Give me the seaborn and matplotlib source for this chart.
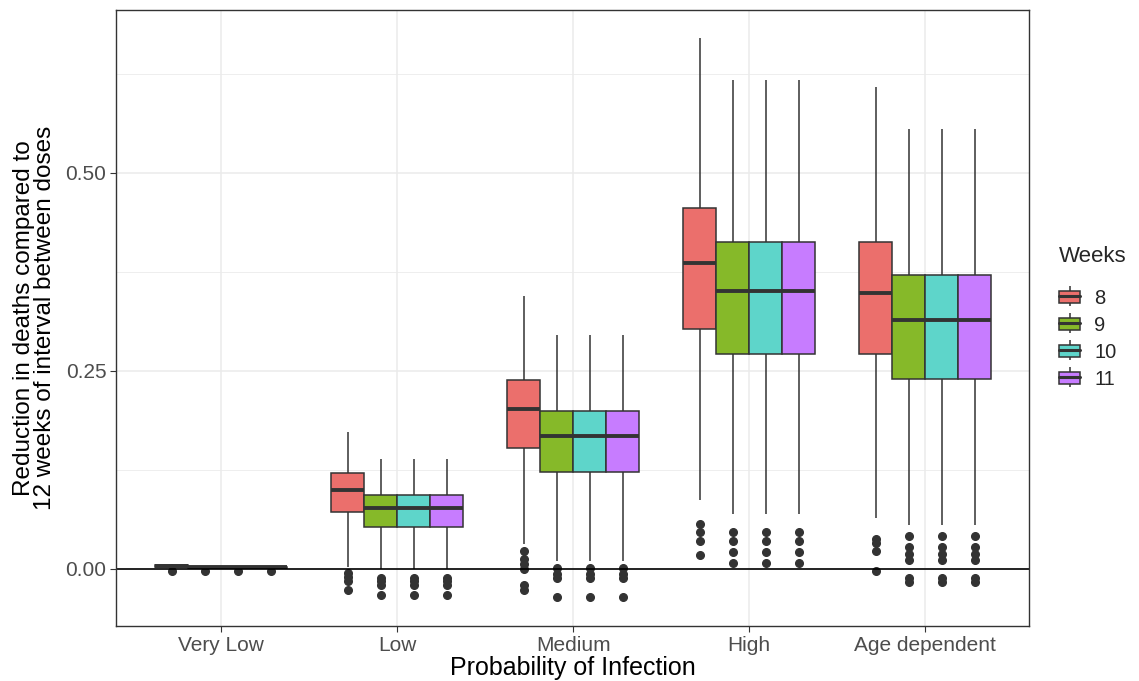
import numpy as np
import pandas as pd
import matplotlib
matplotlib.use("Agg")
import matplotlib.pyplot as plt
from matplotlib.patches import Patch, Rectangle
from matplotlib.lines import Line2D
from matplotlib.legend_handler import HandlerPatch
import seaborn as sns

# ---- data ----
categories = ["Very Low", "Low", "Medium", "High", "Age dependent"]
weeks = ["8", "9", "10", "11"]

# per category: values for weeks 8, 9, 10, 11
whislo = {
    "Very Low": [0.000, 0.000, 0.000, 0.000],
    "Low": [0.0025, 0.000, 0.000, 0.000],
    "Medium": [0.031, 0.010, 0.010, 0.010],
    "High": [0.087, 0.070, 0.070, 0.070],
    "Age dependent": [0.064, 0.0556, 0.0556, 0.0556],
}
q1 = {
    "Very Low": [0.0025, 0.001, 0.001, 0.001],
    "Low": [0.0716, 0.0526, 0.0526, 0.0526],
    "Medium": [0.153, 0.123, 0.123, 0.123],
    "High": [0.303, 0.271, 0.271, 0.271],
    "Age dependent": [0.271, 0.240, 0.240, 0.240],
}
median = {
    "Very Low": [0.0035, 0.002, 0.002, 0.002],
    "Low": [0.100, 0.0766, 0.0766, 0.0766],
    "Medium": [0.202, 0.168, 0.168, 0.168],
    "High": [0.386, 0.351, 0.351, 0.351],
    "Age dependent": [0.349, 0.314, 0.314, 0.314],
}
q3 = {
    "Very Low": [0.0045, 0.003, 0.003, 0.003],
    "Low": [0.121, 0.0934, 0.0934, 0.0934],
    "Medium": [0.2386, 0.200, 0.200, 0.200],
    "High": [0.456, 0.413, 0.413, 0.413],
    "Age dependent": [0.413, 0.371, 0.371, 0.371],
}
whishi = {
    "Very Low": [0.006, 0.004, 0.004, 0.004],
    "Low": [0.173, 0.139, 0.139, 0.139],
    "Medium": [0.345, 0.296, 0.296, 0.296],
    "High": [0.671, 0.618, 0.618, 0.618],
    "Age dependent": [0.608, 0.555, 0.555, 0.555],
}
outliers = {
    "Very Low": [[-0.002], [-0.0025], [-0.0025], [-0.0025]],
    "Low": [[-0.005, -0.010, -0.015, -0.027],
            [-0.011, -0.015, -0.020, -0.033],
            [-0.011, -0.015, -0.020, -0.033],
            [-0.011, -0.015, -0.020, -0.033]],
    "Medium": [[0.023, 0.012, 0.006, 0.000, -0.020, -0.027],
               [0.001, -0.006, -0.012, -0.035],
               [0.001, -0.006, -0.012, -0.035],
               [0.001, -0.006, -0.012, -0.035]],
    "High": [[0.057, 0.0466, 0.0347, 0.0176],
             [0.0466, 0.035, 0.022, 0.007],
             [0.0466, 0.035, 0.022, 0.007],
             [0.0466, 0.035, 0.022, 0.007]],
    "Age dependent": [[0.038, 0.033, 0.023, -0.003],
                      [0.042, 0.028, 0.0195, 0.011, -0.011, -0.017],
                      [0.042, 0.028, 0.0195, 0.011, -0.011, -0.017],
                      [0.042, 0.028, 0.0195, 0.011, -0.011, -0.017]],
}

colors = ["#EB6F6C", "#86B929", "#5ED5CA", "#C77CFF"]

# Build long-form table whose box statistics equal the values read above
M = 50
rows = []
for c in categories:
    for i, w in enumerate(weeks):
        vals = (list(outliers[c][i]) + [whislo[c][i]] + [q1[c][i]] * M
                + [median[c][i]] * M + [q3[c][i]] * M + [whishi[c][i]])
        for v in vals:
            rows.append((c, w, v))
df = pd.DataFrame(rows, columns=["Probability", "Weeks", "Reduction"])

# ---- plot ----
sns.set_theme(style="white")
plt.rcParams["font.family"] = ["Liberation Sans", "DejaVu Sans"]

fig = plt.figure(figsize=(11.39, 6.81), dpi=100)
ax = fig.add_axes([116 / 1139, 1 - 626 / 681, (1029 - 116) / 1139, (626 - 10) / 681])

edge = "#333333"
sns.boxplot(
    data=df, x="Probability", y="Reduction", hue="Weeks",
    order=categories, hue_order=weeks, palette=colors,
    width=0.75, gap=0, saturation=1, linewidth=1.1, linecolor=edge,
    whis=1.5, ax=ax, legend=False,
    medianprops=dict(color=edge, linewidth=2.8),
    whiskerprops=dict(color=edge, linewidth=1.1),
    capprops=dict(linewidth=0),
    flierprops=dict(marker="o", markerfacecolor=edge, markeredgecolor=edge,
                    markersize=5.5, linestyle="none"),
    zorder=3,
)

ax.set_xlim(-0.597, 4.59)
ax.set_ylim(-0.072, 0.7058)

# gridlines (ggplot theme_bw)
grid_c = "#EBEBEB"
for yv in [0.0, 0.25, 0.5]:
    ax.axhline(yv, color=grid_c, linewidth=1.1, zorder=0)
for yv in [-0.125, 0.125, 0.375, 0.625]:
    ax.axhline(yv, color=grid_c, linewidth=0.6, zorder=0)
for xv in range(len(categories)):
    ax.axvline(xv, color=grid_c, linewidth=1.1, zorder=0)

ax.axhline(0, color="black", linewidth=1.2, zorder=4)

ax.set_yticks([0.0, 0.25, 0.5])
ax.set_yticklabels(["0.00", "0.25", "0.50"])
ax.tick_params(axis="both", which="major", direction="out", length=4, width=0.8,
               color="#333333", labelcolor="#4D4D4D", labelsize=15, pad=3,
               bottom=True, left=True)

for s in ax.spines.values():
    s.set_color("#333333")
    s.set_linewidth(1.0)
    s.set_zorder(5)

ax.set_xlabel("Probability of Infection", fontsize=18, color="black", labelpad=1)
ax.set_ylabel("Reduction in deaths compared to\n12 weeks of interval between doses",
              fontsize=17.5, color="black", labelpad=7, linespacing=0.92)


# legend styled as small boxplot glyphs
def small_box(legend, orig_handle, xdescent, ydescent, width, height, fontsize):
    return Rectangle(xy=(-xdescent, -ydescent + height * 0.17),
                     width=width, height=height * 0.66)


handles = []
for col in colors:
    handles.append((
        Line2D([], [], color=edge, marker="|", markersize=15, linestyle="none",
               markeredgewidth=1.1),
        Patch(facecolor=col, edgecolor=edge, linewidth=1.1),
        Line2D([], [], color=edge, linewidth=2.2),
    ))
leg = ax.legend(handles, weeks, title="Weeks", loc="upper left",
                bbox_to_anchor=(1.033, 0.617), frameon=False,
                fontsize=14.5, title_fontsize=16, handlelength=1.05,
                handleheight=1.0, handletextpad=0.7, labelspacing=0.36,
                borderaxespad=0, borderpad=0,
                handler_map={Patch: HandlerPatch(patch_func=small_box)})
leg._legend_box.align = "left"
leg._legend_box.sep = 15

fig.savefig("out.png", dpi=100)
